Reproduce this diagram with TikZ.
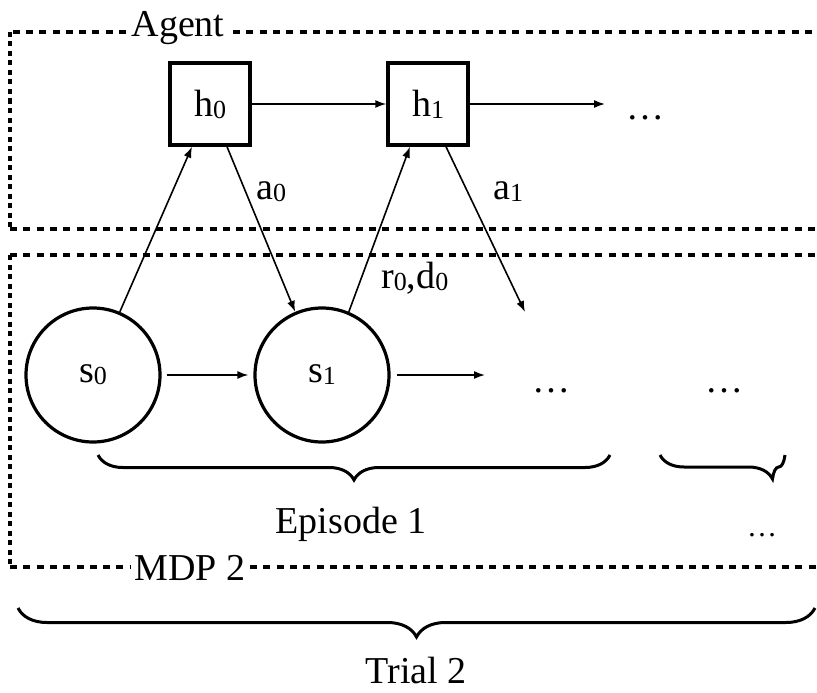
\documentclass[tikz,border=0pt]{standalone}
\usepackage{fontspec}
\setmainfont{Liberation Serif}
\usetikzlibrary{arrows.meta,decorations.pathreplacing}
% small lowered index digit
\newcommand\idx[1]{\raisebox{-2pt}{\fontsize{26}{28}\selectfont #1}}
\begin{document}
\begin{tikzpicture}[x=1pt,y=-1pt,
  every node/.style={font=\fontsize{38}{40}\selectfont, inner sep=0pt},
  hbox/.style={draw, line width=3.4pt, minimum width=80pt, minimum height=82pt},
  sstate/.style={draw, circle, line width=3.2pt, minimum size=134pt},
  link/.style={line width=1.6pt, -{Latex[length=11pt,width=8pt]}},
  frame/.style={line width=3.1pt, dash pattern=on 7pt off 6.3pt},
  frameside/.style={line width=3.1pt, dash pattern=on 5pt off 4.5pt},
  curly/.style={decorate, decoration={brace,mirror,amplitude=#1}, line width=3pt},
]
\useasboundingbox (0,0) rectangle (817,693);

% Agent frame (open on the right)
\node[anchor=base] (agentlbl) at (178,37) {Agent};
\draw[frame] (126,32) -- (10,32);
\draw[frame] (233,32) -- (817,32);
\draw[frameside] (10,32) -- (10,229);
\draw[frame] (10,229) -- (817,229);

% MDP frame
\node[anchor=base] (mdplbl) at (190,580) {MDP 2};
\draw[frame] (10,255) -- (817,255);
\draw[frameside] (10,255) -- (10,567);
\draw[frame] (10,567) -- (130,567);
\draw[frame] (250,567) -- (817,567);

% hidden states of the agent
\node[hbox] (h0) at (210,104) {h\idx{0}};
\node[hbox] (h1) at (428,104) {h\idx{1}};
\coordinate (hend) at (605,104);
\node[anchor=base] (hdots) at (645,119) {…};

% environment states
\node[sstate] (s0) at (93,375) {s\idx{0}};
\node[sstate] (s1) at (322,375) {s\idx{1}};
\coordinate (send) at (485,375);
\node[anchor=base] (sdots) at (551,392) {…};
\node[anchor=base] (edots) at (724,392) {…};
\coordinate (a1end) at (525,312);

% transitions
\draw[link] (h0) -- (h1);
\draw[link] (h1) -- (hend);
\draw[link, shorten <=5pt, shorten >=5pt] (s0) -- (s1);
\draw[link, shorten <=6pt] (s1) -- (send);
\draw[link] (s0.67) -- ([xshift=-18pt]h0.south);
\draw[link] ([xshift=17pt]h0.south) -- (s1.113);
\draw[link] (s1.67) -- ([xshift=-18pt]h1.south);
\draw[link] ([xshift=18pt]h1.south) -- (a1end);

% edge labels
\node[anchor=base west] (a0) at (256,199) {a\idx{0}};
\node[anchor=base west] (a1) at (493,199) {a\idx{1}};
\node[anchor=base west] (rd0) at (381,288) {r\idx{0},d\idx{0}};

% episodes
\draw[curly=25pt] (98,455) -- (610,455);
\draw[curly=24pt, decoration={aspect=0.9}] (660,455) -- (785,455);
\node[anchor=base] (ep1) at (351,533) {Episode 1};
\node[anchor=base, font=\fontsize{30}{32}\selectfont] (epdots) at (762,536) {…};

% trial
\draw[curly=29pt] (18,608) -- (815,608);
\node[anchor=base] (trial) at (416,683) {Trial 2};
\end{tikzpicture}
\end{document}
